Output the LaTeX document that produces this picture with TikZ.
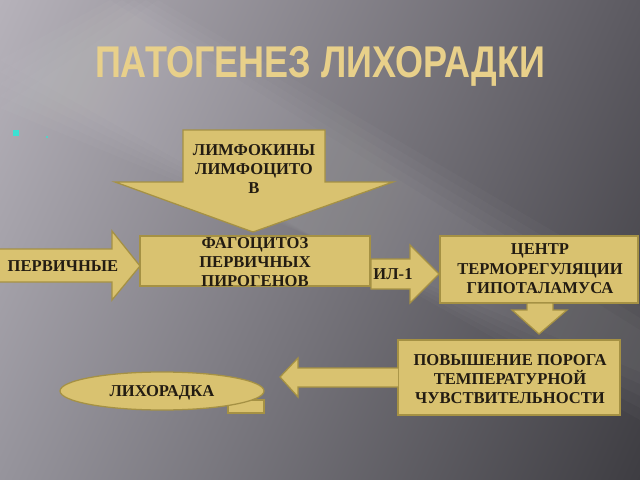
\documentclass[tikz,border=0pt]{standalone}
\usepackage{fontspec}
\usetikzlibrary{shadings}
\setmainfont{Liberation Serif}
\newfontfamily\titlefont{Liberation Sans}[FakeStretch=0.81]
\newfontfamily\boxfont{Liberation Serif}
\definecolor{gold}{RGB}{217,194,112}
\definecolor{goldedge}{RGB}{165,145,68}
\definecolor{titlegold}{RGB}{232,208,138}
\definecolor{ink}{RGB}{35,28,18}
\definecolor{bgul}{RGB}{182,178,186}
\definecolor{bgur}{RGB}{92,90,97}
\definecolor{bgll}{RGB}{150,148,156}
\definecolor{bglr}{RGB}{62,61,66}
\definecolor{bulletcyan}{RGB}{60,225,210}
\begin{document}
\begin{tikzpicture}[x=0.025cm,y=-0.025cm,
  shapefill/.style={fill=gold,draw=goldedge,line width=0.9pt,line join=miter},
  lbl/.style={font=\boxfont\bfseries\fontsize{11.8}{13.8}\selectfont,text=ink,align=center,inner sep=0pt}]
\useasboundingbox (0,0) rectangle (640,480);
% background
\shade[upper left=bgul,upper right=bgur,lower left=bgll,lower right=bglr] (0,0) rectangle (640,480);
\foreach \d in {0,12,24,36,48} {
  \fill[white,opacity=0.025] (0,60+\d) -- (110+\d,0) -- (640,330-\d) -- (640,420-\d) -- cycle;
}
% title
\node (title) at (320,66) {\titlefont\bfseries\fontsize{31.6}{34}\selectfont\color{titlegold}ПАТОГЕНЕЗ ЛИХОРАДКИ};
% bullet
\fill[bulletcyan] (13,130) rectangle (19,136);
\fill[bulletcyan] (47,137) circle (1.2);
% boxes
\draw[shapefill] (140,236) rectangle (370,286);
\node[lbl] (fag) at (255,262) {ФАГОЦИТОЗ\\ПЕРВИЧНЫХ\\ПИРОГЕНОВ};
\draw[shapefill] (440,236) rectangle (638,303);
\node[lbl] (centr) at (540,269) {ЦЕНТР\\ТЕРМОРЕГУЛЯЦИИ\\ГИПОТАЛАМУСА};
\draw[shapefill] (398,340) rectangle (620,415);
\node[lbl] (pov) at (510,379) {ПОВЫШЕНИЕ ПОРОГА\\ТЕМПЕРАТУРНОЙ\\ЧУВСТВИТЕЛЬНОСТИ};
% down arrow lymphokines
\draw[shapefill] (183,130) -- (325,130) -- (325,182) -- (393,182) -- (253,232) -- (115,182) -- (183,182) -- cycle;
\node[lbl] (lim) at (254,169) {ЛИМФОКИНЫ\\ЛИМФОЦИТО\\В};
% primary arrow
\draw[shapefill] (-2,249) -- (112,249) -- (112,231) -- (140,266) -- (112,300) -- (112,282) -- (-2,282) -- cycle;
\node[lbl] (perv) at (63,266) {ПЕРВИЧНЫЕ};
% IL-1 arrow
\draw[shapefill] (371,259) -- (410,259) -- (410,245) -- (439,274) -- (410,303) -- (410,289) -- (371,289) -- cycle;
\node[lbl] (il) at (393,274) {ИЛ-1};
% small down arrow
\draw[shapefill] (527,303) -- (553,303) -- (553,310) -- (567,310) -- (539,334) -- (512,310) -- (527,310) -- cycle;
% left arrow
\draw[shapefill] (398,368) -- (298,368) -- (298,358) -- (280,377) -- (298,397) -- (298,387) -- (398,387);
% fever ellipse
\draw[shapefill] (228,400) -- (264,400) -- (264,413) -- (228,413) -- cycle;
\draw[shapefill] (162,391) ellipse [x radius=102,y radius=19];
\node[lbl] (lih) at (162,393) {ЛИХОРАДКА};
\end{tikzpicture}
\end{document}
